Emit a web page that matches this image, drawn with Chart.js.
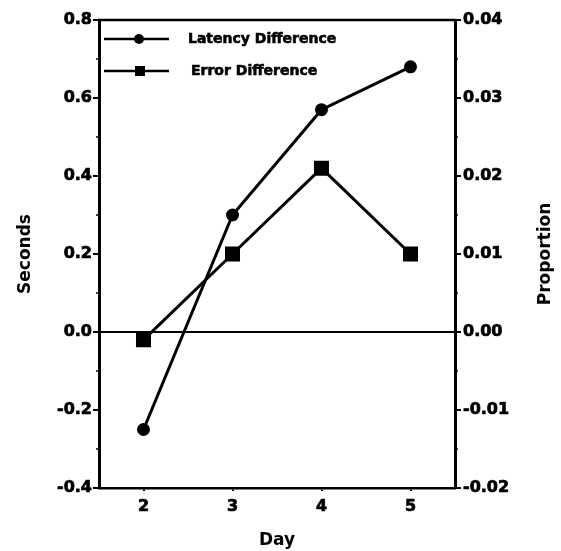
<!DOCTYPE html>
<html>
<head>
<meta charset="utf-8">
<script src="https://cdn.jsdelivr.net/npm/chart.js@4"></script>
<style>
  body { margin: 0; background: #fff; }
  #wrap { width: 561px; height: 551px; }
</style>
</head>
<body>
<div id="wrap"><canvas id="line-chart"></canvas></div>
<script>
const days = [2, 3, 4, 5];
const latencyDiff = [-0.25, 0.30, 0.57, 0.68];   // seconds, left axis
const errorDiff = [-0.001, 0.010, 0.021, 0.010]; // proportion, right axis
const seriesNames = ["Latency Difference", "Error Difference"];

const FONT = "'DejaVu Sans', sans-serif";

// minor ticks, zero line, top frame, legend and right-hand title
const extras = {
  id: 'extras',
  afterDraw(chart) {
    const ctx = chart.ctx;
    const area = chart.chartArea;
    const y = chart.scales.y;
    ctx.save();
    ctx.strokeStyle = '#000';

    // frame top
    ctx.lineWidth = 2.5;
    ctx.beginPath();
    ctx.moveTo(area.left - 1, area.top);
    ctx.lineTo(area.right + 1, area.top);
    ctx.stroke();

    // zero reference line
    ctx.lineWidth = 1.8;
    const y0 = y.getPixelForValue(0);
    ctx.beginPath();
    ctx.moveTo(area.left, y0);
    ctx.lineTo(area.right, y0);
    ctx.stroke();

    // minor ticks between labelled ones
    ctx.lineWidth = 1.5;
    for (let v = -0.3; v < 0.8; v += 0.2) {
      const py = y.getPixelForValue(v);
      ctx.beginPath();
      ctx.moveTo(area.left - 3, py);
      ctx.lineTo(area.left, py);
      ctx.moveTo(area.right, py);
      ctx.lineTo(area.right + 3, py);
      ctx.stroke();
    }

    // legend
    ctx.font = 'bold 14px ' + FONT;
    ctx.textBaseline = 'middle';
    ctx.fillStyle = '#000';
    chart.data.datasets.forEach((ds, i) => {
      const ly = area.top + 19 + i * 32;
      ctx.lineWidth = 2.5;
      ctx.beginPath();
      ctx.moveTo(area.left + 5, ly);
      ctx.lineTo(area.left + 70, ly);
      ctx.stroke();
      if (ds.pointStyle === 'rect') {
        ctx.fillRect(area.left + 36, ly - 5, 10, 10);
      } else {
        ctx.beginPath();
        ctx.arc(area.left + 40, ly, 5, 0, Math.PI * 2);
        ctx.fill();
      }
      ctx.lineWidth = 0.6;
      ctx.fillText(ds.label, area.left + 89 + i * 3, ly);
      ctx.strokeText(ds.label, area.left + 89 + i * 3, ly);
    });

    // right axis title, reading upward like the left one
    ctx.font = 'bold 17px ' + FONT;
    ctx.textAlign = 'center';
    ctx.translate(546, (area.top + area.bottom) / 2);
    ctx.rotate(-Math.PI / 2);
    ctx.fillText('Proportion', 0, 0);
    ctx.restore();
  }
};

const tickFont = { family: FONT, size: 16, weight: 'bold' };
const titleFont = { family: FONT, size: 17, weight: 'bold' };

new Chart(document.getElementById('line-chart'), {
  type: 'line',
  data: {
    datasets: [{
      label: seriesNames[0],
      data: days.map((d, i) => ({ x: d, y: latencyDiff[i] })),
      yAxisID: 'y',
      borderColor: '#000',
      backgroundColor: '#000',
      borderWidth: 3,
      pointStyle: 'circle',
      pointRadius: 5,
      tension: 0
    }, {
      label: seriesNames[1],
      data: days.map((d, i) => ({ x: d, y: errorDiff[i] })),
      yAxisID: 'y1',
      borderColor: '#000',
      backgroundColor: '#000',
      borderWidth: 3,
      pointStyle: 'rect',
      pointRadius: 8.5,
      tension: 0
    }]
  },
  options: {
    responsive: true,
    maintainAspectRatio: false,
    animation: false,
    layout: { padding: { top: 20, left: 0, right: 0, bottom: 0 } },
    plugins: {
      legend: { display: false },
      tooltip: { enabled: false }
    },
    scales: {
      x: {
        type: 'linear',
        min: 1.5,
        max: 5.5,
        afterBuildTicks: s => { s.ticks = days.map(d => ({ value: d })); },
        afterFit: s => { s.height = 63; },
        border: { color: '#000', width: 2.5 },
        grid: { drawOnChartArea: false, color: '#000', tickLength: 3, lineWidth: 2 },
        ticks: { color: '#000', font: tickFont, padding: 6, textStrokeColor: '#000', textStrokeWidth: 0.7 },
        title: { display: true, text: 'Day', color: '#000', font: titleFont, padding: { top: 1, bottom: 0 } }
      },
      y: {
        position: 'left',
        min: -0.4,
        max: 0.8,
        afterFit: s => { s.width = 99; },
        border: { color: '#000', width: 3 },
        grid: { drawOnChartArea: false, color: '#000', tickLength: 6, lineWidth: 2 },
        ticks: { stepSize: 0.2, color: '#000', font: tickFont, padding: 1, textStrokeColor: '#000', textStrokeWidth: 0.7, callback: v => v.toFixed(1) },
        title: { display: true, text: 'Seconds', color: '#000', font: titleFont, padding: { top: 15, bottom: 0 } }
      },
      y1: {
        position: 'right',
        min: -0.02,
        max: 0.04,
        afterFit: s => { s.width = 106; },
        border: { color: '#000', width: 3 },
        grid: { drawOnChartArea: false, color: '#000', tickLength: 6, lineWidth: 2 },
        ticks: { stepSize: 0.01, color: '#000', font: tickFont, padding: 2, textStrokeColor: '#000', textStrokeWidth: 0.7, callback: v => v.toFixed(2) }
      }
    }
  },
  plugins: [extras]
});
</script>
</body>
</html>
